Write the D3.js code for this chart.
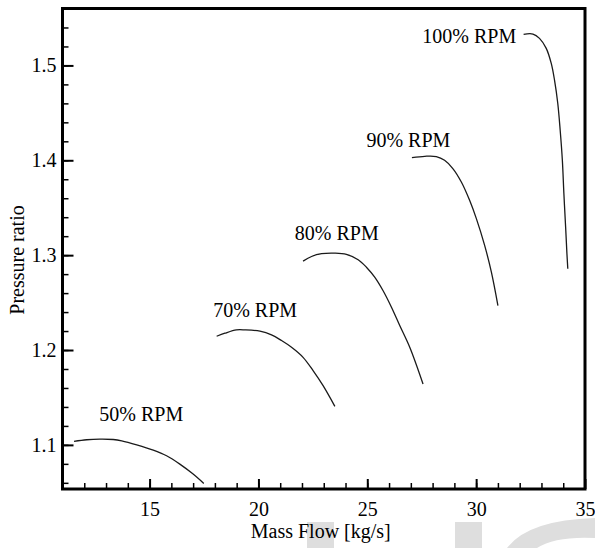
<!DOCTYPE html>
<html><head><meta charset="utf-8">
<script src="https://cdn.jsdelivr.net/npm/d3@7"></script>
<style>body{margin:0;background:#fff;} svg{display:block;}</style>
</head><body><svg id="chart" width="595" height="548"></svg>
<script>
// ---- data ----
const speedLabels = ["50% RPM", "70% RPM", "80% RPM", "90% RPM", "100% RPM"];
const flow50  = [11.53, 12.11, 12.72, 13.33, 13.72, 14.41, 15.17, 15.78, 16.39, 17.00, 17.49];
const pr50    = [1.1036, 1.1054, 1.1061, 1.1057, 1.1043, 1.1001, 1.0945, 1.0885, 1.0797, 1.0692, 1.0593];
const flow70  = [18.08, 18.46, 18.99, 19.38, 20.07, 20.60, 21.06, 21.52, 22.05, 22.51, 22.97, 23.51];
const pr70    = [1.2145, 1.2177, 1.2212, 1.2212, 1.2198, 1.2160, 1.2100, 1.2029, 1.1923, 1.1783, 1.1624, 1.1406];
const flow80  = [22.05, 22.44, 22.90, 23.51, 24.04, 24.58, 24.96, 25.34, 25.72, 26.11, 26.49, 26.95, 27.56];
const pr80    = [1.2937, 1.2986, 1.3015, 1.3021, 1.3008, 1.2952, 1.2873, 1.2768, 1.2627, 1.2451, 1.2258, 1.2029, 1.1642];
const flow90  = [27.05, 27.64, 28.17, 28.55, 28.93, 29.32, 29.70, 30.01, 30.39, 30.70, 31.00];
const pr90    = [1.4029, 1.4042, 1.4039, 1.4000, 1.3913, 1.3771, 1.3578, 1.3385, 1.3103, 1.2821, 1.2469];
const flow100 = [32.18, 32.61, 32.91, 33.22, 33.45, 33.60, 33.75, 33.86, 33.96, 34.03, 34.11, 34.17, 34.21];
const pr100   = [1.5328, 1.5331, 1.5285, 1.5180, 1.5021, 1.4845, 1.4599, 1.4317, 1.4000, 1.3649, 1.3296, 1.3015, 1.2857];
const labelFlow = [12.69, 17.92, 21.67, 24.96, 27.53];
const labelPR   = [1.1247, 1.2346, 1.3156, 1.4138, 1.5233];
const xTicks = [15, 20, 25, 30, 35];
const yTicks = [1.1, 1.2, 1.3, 1.4, 1.5];
const xMinor = d3.range(12, 35, 1);
const yMinor = d3.range(1.06, 1.56, 0.02).map(v => +v.toFixed(2));
const xTitle = "Mass Flow [kg/s]";
const yTitle = "Pressure ratio";

const series = [
  {name: speedLabels[0], x: flow50,  y: pr50},
  {name: speedLabels[1], x: flow70,  y: pr70},
  {name: speedLabels[2], x: flow80,  y: pr80},
  {name: speedLabels[3], x: flow90,  y: pr90},
  {name: speedLabels[4], x: flow100, y: pr100}
];

// ---- drawing ----
const FONT = "'Liberation Serif','Times New Roman',serif";
const svg = d3.select("#chart");
const L = 62.5, R = 585, T = 8.5, B = 489;
const x = d3.scaleLinear().domain([11, 35]).range([L, R]);
const y = d3.scaleLinear().domain([1.0535, 1.56]).range([B, T]);

// background watermark shapes
const wm = svg.append("g").attr("fill", "#dedede");
wm.append("rect").attr("x", 307).attr("y", 522).attr("width", 27).attr("height", 26);
wm.append("rect").attr("x", 455).attr("y", 522).attr("width", 27).attr("height", 26);
wm.append("path").attr("d", "M507,548 Q528,520 595,518 L595,538 Q556,536 537,548 Z");

// minor ticks
svg.append("g").attr("transform", `translate(0,${B})`)
  .call(d3.axisBottom(x).tickValues(xMinor).tickSize(-6).tickFormat(""))
  .call(g => g.select(".domain").remove())
  .call(g => g.selectAll("line").attr("stroke", "#000").attr("stroke-width", 1.5));
svg.append("g").attr("transform", `translate(${L},0)`)
  .call(d3.axisLeft(y).tickValues(yMinor).tickSize(-6).tickFormat(""))
  .call(g => g.select(".domain").remove())
  .call(g => g.selectAll("line").attr("stroke", "#000").attr("stroke-width", 1.5));

// major ticks
svg.append("g").attr("transform", `translate(0,${B})`)
  .call(d3.axisBottom(x).tickValues(xTicks).tickSize(-10).tickPadding(13).tickFormat(d3.format("d")))
  .call(g => g.select(".domain").remove())
  .call(g => g.selectAll("line").attr("stroke", "#000").attr("stroke-width", 2))
  .call(g => g.selectAll("text").attr("font-family", FONT).attr("font-size", 20).attr("fill", "#000"));
svg.append("g").attr("transform", `translate(${L},0)`)
  .call(d3.axisLeft(y).tickValues(yTicks).tickSize(-11).tickPadding(6).tickFormat(d3.format(".1f")))
  .call(g => g.select(".domain").remove())
  .call(g => g.selectAll("line").attr("stroke", "#000").attr("stroke-width", 2))
  .call(g => g.selectAll("text").attr("font-family", FONT).attr("font-size", 20).attr("fill", "#000"));

// frame
svg.append("rect").attr("x", L).attr("y", T).attr("width", R - L).attr("height", B - T)
  .attr("fill", "none").attr("stroke", "#000").attr("stroke-width", 3);

// curves
const line = d3.line().x(d => x(d[0])).y(d => y(d[1])).curve(d3.curveCatmullRom.alpha(0.5));
svg.append("g").selectAll("path").data(series).join("path")
  .attr("d", s => line(s.x.map((v, i) => [v, s.y[i]])))
  .attr("fill", "none").attr("stroke", "#1a1a1a").attr("stroke-width", 1.3);

// curve labels
svg.append("g").selectAll("text").data(speedLabels).join("text")
  .attr("x", (d, i) => x(labelFlow[i])).attr("y", (d, i) => y(labelPR[i]))
  .attr("font-family", FONT).attr("font-size", 20).attr("fill", "#000")
  .text(d => d);

// axis titles
svg.append("text").attr("x", (L + R) / 2 - 3).attr("y", 538).attr("text-anchor", "middle")
  .attr("font-family", FONT).attr("font-size", 20).attr("fill", "#000").text(xTitle);
svg.append("text").attr("transform", `translate(24,260) rotate(-90)`).attr("text-anchor", "middle")
  .attr("font-family", FONT).attr("font-size", 20).attr("fill", "#000").text(yTitle);
</script>
</body></html>
